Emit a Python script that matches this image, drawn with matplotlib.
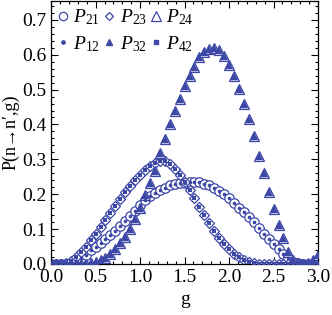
import matplotlib
matplotlib.use("Agg")
import matplotlib.pyplot as plt
from matplotlib.ticker import MultipleLocator, FormatStrFormatter
from matplotlib.lines import Line2D

g = [0.000, 0.056, 0.111, 0.167, 0.222, 0.278, 0.333, 0.389, 0.444, 0.500,
     0.556, 0.611, 0.667, 0.722, 0.778, 0.833, 0.889, 0.944, 1.000, 1.056,
     1.111, 1.167, 1.222, 1.278, 1.333, 1.389, 1.444, 1.500, 1.556, 1.611,
     1.667, 1.722, 1.778, 1.833, 1.889, 1.944, 2.000, 2.056, 2.111, 2.167,
     2.222, 2.278, 2.333, 2.389, 2.444, 2.500, 2.556, 2.611, 2.667, 2.722,
     2.778, 2.833, 2.889, 2.944, 3.000]

# P21 = P12 (circles / dots)
p21 = [0.000, 0.000, 0.000, 0.000, 0.002, 0.008, 0.017, 0.027, 0.040, 0.050,
       0.060, 0.073, 0.084, 0.095, 0.109, 0.122, 0.137, 0.151, 0.168, 0.182,
       0.194, 0.203, 0.212, 0.219, 0.225, 0.229, 0.231, 0.233, 0.234, 0.235,
       0.234, 0.230, 0.225, 0.218, 0.210, 0.200, 0.188, 0.176, 0.161, 0.148,
       0.135, 0.120, 0.102, 0.087, 0.073, 0.057, 0.043, 0.029, 0.017, 0.007,
       0.002, 0.000, 0.000, 0.001, 0.002]

# diamond curve (with filled squares)
p23 = [0.000, 0.000, 0.000, 0.003, 0.008, 0.020, 0.035, 0.050, 0.068, 0.087,
       0.106, 0.126, 0.146, 0.166, 0.186, 0.205, 0.223, 0.240, 0.255, 0.268,
       0.280, 0.290, 0.296, 0.294, 0.286, 0.273, 0.256, 0.235, 0.212, 0.188,
       0.164, 0.140, 0.117, 0.095, 0.075, 0.057, 0.042, 0.029, 0.019, 0.011,
       0.006, 0.003, 0.001, 0.000, 0.000, 0.000, 0.000, 0.000, 0.000, 0.000,
       0.000, 0.000, 0.000, 0.000, 0.000]

# triangle curve
p24 = [0.000, 0.000, 0.000, 0.000, 0.000, 0.000, 0.000, 0.000, 0.002, 0.005,
       0.010, 0.017, 0.028, 0.043, 0.060, 0.078, 0.099, 0.128, 0.160, 0.198,
       0.232, 0.267, 0.318, 0.357, 0.400, 0.440, 0.472, 0.510, 0.538, 0.565,
       0.592, 0.607, 0.615, 0.618, 0.614, 0.597, 0.570, 0.540, 0.503, 0.460,
       0.415, 0.368, 0.310, 0.260, 0.207, 0.158, 0.112, 0.075, 0.035, 0.011,
       0.002, 0.000, 0.003, 0.012, 0.025]

labels_open = [r'$P_{21}$', r'$P_{23}$', r'$P_{24}$']
labels_fill = [r'$P_{12}$', r'$P_{32}$', r'$P_{42}$']

col = '#3c47a6'

plt.rcParams['font.family'] = ['Liberation Serif', 'DejaVu Serif']
plt.rcParams['mathtext.fontset'] = 'custom'
plt.rcParams['mathtext.rm'] = 'Liberation Serif'
plt.rcParams['mathtext.it'] = 'Liberation Serif:italic'

fig = plt.figure(figsize=(3.32, 3.15), dpi=100)
ax = fig.add_axes([0.154, 0.162, 0.804, 0.836])

ax.plot(g, p21, 'o', ms=6.8, mfc='white', mec=col, mew=0.9, ls='none', zorder=2)
ax.plot(g, p21, 'o', ms=2.6, mfc=col, mec=col, mew=0, ls='none', zorder=3)
ax.plot(g, p23, 'D', ms=5.6, mfc='white', mec=col, mew=0.9, ls='none', zorder=2)
ax.plot(g, p23, 's', ms=3.4, mfc=col, mec=col, mew=0, ls='none', zorder=3)
ax.plot(g, p24, '^', ms=7.8, mfc='#c8cbe8', mec=col, mew=0.9, ls='none', zorder=2)
ax.plot(g, p24, '^', ms=5.6, mfc=col, mec=col, mew=0, ls='none', zorder=3)

ax.set_xlim(0, 3.0)
ax.set_ylim(0, 0.755)
ax.xaxis.set_major_locator(MultipleLocator(0.5))
ax.xaxis.set_minor_locator(MultipleLocator(0.1))
ax.yaxis.set_major_locator(MultipleLocator(0.1))
ax.yaxis.set_minor_locator(MultipleLocator(0.02))
ax.xaxis.set_major_formatter(FormatStrFormatter('%.1f'))
ax.yaxis.set_major_formatter(FormatStrFormatter('%.1f'))
ax.tick_params(which='both', direction='in', top=True, right=True, labelsize=14, width=0.8, color='black')
ax.tick_params(which='major', length=5)
ax.tick_params(which='minor', length=2.5)
for s in ax.spines.values():
    s.set_linewidth(0.9)

ax.set_xlabel('g', fontsize=14, labelpad=4)
ax.set_ylabel("P(n→n′,g)", fontsize=13, labelpad=2)

lo = [Line2D([], [], marker='o', ms=6, mfc='white', mec=col, mew=0.9, ls='none'),
      Line2D([], [], marker='o', ms=2.4, mfc=col, mec=col, ls='none'),
      Line2D([], [], marker='D', ms=4.5, mfc='white', mec=col, mew=0.9, ls='none'),
      Line2D([], [], marker='^', ms=5, mfc=col, mec=col, ls='none'),
      Line2D([], [], marker='^', ms=6.5, mfc='white', mec=col, mew=0.9, ls='none'),
      Line2D([], [], marker='s', ms=3, mfc=col, mec=col, ls='none')]
ll = [labels_open[0], labels_fill[0], labels_open[1], labels_fill[1], labels_open[2], labels_fill[2]]
ax.legend(lo, ll, ncol=3, loc='upper left', frameon=False, fontsize=14,
          handlelength=0.5, handletextpad=0.3, columnspacing=0.2,
          labelspacing=0.35, borderaxespad=0.15, borderpad=0.2)

fig.savefig('out.png', dpi=100)
